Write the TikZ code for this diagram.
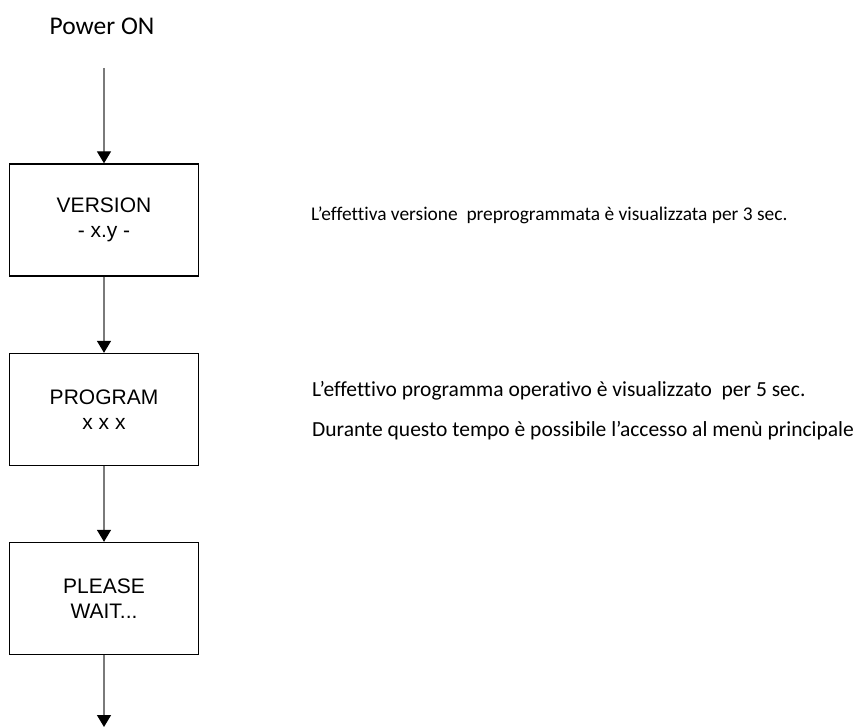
\documentclass[tikz,border=0pt]{standalone}
\usepackage{fontspec}
\setmainfont{Carlito}[Ligatures={NoCommon,NoContextual}]
\newfontfamily\boxfont{Liberation Sans}
\usetikzlibrary{arrows.meta}
\definecolor{flowline}{HTML}{7A7A7A}
\tikzset{
  stepbox/.style={draw=black, line width=1.3pt, rectangle, minimum width=189pt,
    minimum height=112pt, inner sep=0pt, align=center,
    font=\boxfont\fontsize{21}{24.5}\selectfont},
  flow/.style={draw=flowline, line width=1.2pt,
    -{Triangle[width=14pt,length=12pt,fill=black,color=black]}},
  note/.style={anchor=base west, inner sep=0pt},
  small note/.style={note, font=\fontsize{19.4}{23}\selectfont},
  large note/.style={note, font=\fontsize{21.5}{26}\selectfont},
}
\begin{document}
\begin{tikzpicture}[x=1pt, y=-1pt]
  \useasboundingbox (0,0) rectangle (858,727);
  \node[anchor=base, inner sep=0pt, font=\fontsize{25.5}{30}\selectfont] (power) at (102,35) {Power ON};
  \coordinate (start) at (104,68);
  \node[stepbox] (version) at (104,220) {VERSION\\- x.y -};
  \node[stepbox] (program) at (104,409.5) {PROGRAM\\x x x};
  \node[stepbox] (wait) at (104,598.5) {PLEASE\\WAIT...};
  \coordinate (next) at (104,727);
  \draw[flow] (start) -- (version.north);
  \draw[flow] (version.south) -- (program.north);
  \draw[flow] (program.south) -- (wait.north);
  \draw[flow] (wait.south) -- (next);
  \node[small note] (t1) at (311,221) {L’effettiva versione\ \ preprogrammata è visualizzata per 3 sec.};
  \node[large note] (t2) at (312,396) {L’effettivo programma operativo è visualizzato\ \ per 5 sec.};
  \node[large note] (t3) at (312,436) {Durante questo tempo è possibile l’accesso al menù principale};
\end{tikzpicture}
\end{document}
